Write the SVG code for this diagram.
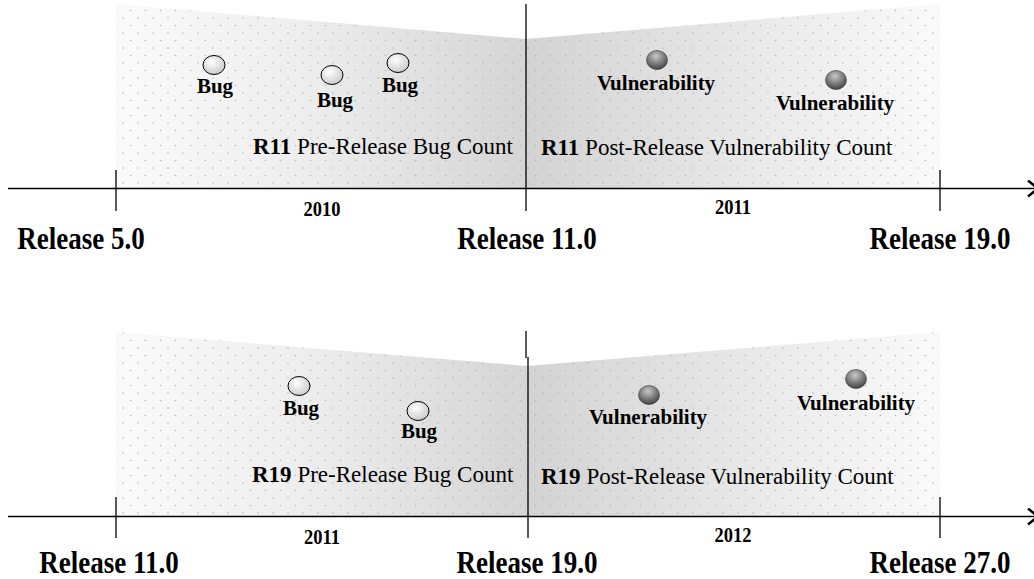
<svg xmlns="http://www.w3.org/2000/svg" width="1034" height="579" viewBox="0 0 1034 579">
<style>
.bugtxt{font-family:"Liberation Serif","Times New Roman",serif;font-weight:bold;font-size:21px;fill:#000;text-anchor:middle}
.cnt{font-family:"Liberation Serif","Times New Roman",serif;font-size:23px;fill:#000}
.cnt .b{font-weight:bold}
.rel{font-family:"Liberation Serif","Times New Roman",serif;font-weight:bold;font-size:27px;fill:#000;text-anchor:middle}
.yr{font-family:"Liberation Serif","Times New Roman",serif;font-weight:bold;font-size:18.5px;fill:#000;text-anchor:middle}
.ax{stroke:#000;stroke-width:1.5;fill:none}
.tk{stroke:#000;stroke-width:1.3;fill:none}
.bug{fill:url(#gBug);stroke:#000;stroke-width:1}
.vul{fill:url(#gVul);stroke:#333;stroke-width:0.6}
</style>
<defs>
<linearGradient id="gL" x1="0" y1="0" x2="1" y2="0">
<stop offset="0" stop-color="#fafafa"/>
<stop offset="0.45" stop-color="#eeeeee"/>
<stop offset="1" stop-color="#d5d5d5"/>
</linearGradient>
<linearGradient id="gR" x1="0" y1="0" x2="1" y2="0">
<stop offset="0" stop-color="#d3d3d3"/>
<stop offset="0.6" stop-color="#ebebeb"/>
<stop offset="1" stop-color="#fafafa"/>
</linearGradient>
<pattern id="dots" width="15" height="15" patternUnits="userSpaceOnUse">
<circle cx="3" cy="3" r="0.8" fill="#b5b5b5"/>
<circle cx="10.5" cy="10.5" r="0.8" fill="#b5b5b5"/>
</pattern>
<radialGradient id="gBug" cx="0.4" cy="0.35" r="0.7">
<stop offset="0" stop-color="#ffffff"/>
<stop offset="1" stop-color="#c8c8c8"/>
</radialGradient>
<radialGradient id="gVul" cx="0.45" cy="0.3" r="0.75">
<stop offset="0" stop-color="#c8c8c8"/>
<stop offset="0.5" stop-color="#808080"/>
<stop offset="1" stop-color="#3a3a3a"/>
</radialGradient>
<marker id="arr" markerWidth="14" markerHeight="18" refX="11" refY="9" orient="auto" markerUnits="userSpaceOnUse">
<path d="M1,1 L11,9 L1,17" fill="none" stroke="#000" stroke-width="2.5"/>
</marker>
</defs>

<g id="shading">
<path d="M116,4 L526,39 L526,188 L116,188 Z" fill="url(#gL)"/>
<path d="M116,4 L526,39 L526,188 L116,188 Z" fill="url(#dots)"/>
<path d="M526,39 L940,4 L940,188 L526,188 Z" fill="url(#gR)"/>
<path d="M526,39 L940,4 L940,188 L526,188 Z" fill="url(#dots)"/>
<path d="M116,332 L527,366 L527,516 L116,516 Z" fill="url(#gL)"/>
<path d="M116,332 L527,366 L527,516 L116,516 Z" fill="url(#dots)"/>
<path d="M527,366 L940,332 L940,516 L527,516 Z" fill="url(#gR)"/>
<path d="M527,366 L940,332 L940,516 L527,516 Z" fill="url(#dots)"/>
</g>

<g id="connectors">
<line class="ax" x1="8" y1="188.5" x2="1038" y2="188.5" marker-end="url(#arr)"/>
<line class="tk" x1="116" y1="170" x2="116" y2="211"/>
<line class="tk" x1="526" y1="4" x2="526" y2="211"/>
<line class="tk" x1="940" y1="170" x2="940" y2="211"/>
<line class="ax" x1="8" y1="516.5" x2="1038" y2="516.5" marker-end="url(#arr)"/>
<line class="tk" x1="116" y1="497" x2="116" y2="538"/>
<line class="tk" x1="526" y1="331" x2="526" y2="358"/>
<line class="tk" x1="528" y1="357" x2="528" y2="538"/>
<line class="tk" x1="940" y1="497" x2="940" y2="538"/>
</g>

<g id="bug-r11-1"><ellipse class="bug" cx="214" cy="65" rx="11" ry="9.5"/><text class="bugtxt" x="215" y="93">Bug</text></g>
<g id="bug-r11-2"><ellipse class="bug" cx="332" cy="75" rx="11" ry="9.5"/><text class="bugtxt" x="335" y="107">Bug</text></g>
<g id="bug-r11-3"><ellipse class="bug" cx="398" cy="63" rx="11" ry="9.5"/><text class="bugtxt" x="400" y="92">Bug</text></g>
<g id="vul-r11-1"><ellipse class="vul" cx="657" cy="60" rx="10.5" ry="9.5"/><text class="bugtxt" x="656" y="90">Vulnerability</text></g>
<g id="vul-r11-2"><ellipse class="vul" cx="836" cy="80" rx="10.5" ry="9.5"/><text class="bugtxt" x="835" y="110">Vulnerability</text></g>

<g id="count-r11-pre"><text class="cnt" x="253" y="154"><tspan class="b">R11</tspan> Pre-Release Bug Count</text></g>
<g id="count-r11-post"><text class="cnt" x="541" y="155"><tspan class="b">R11</tspan> Post-Release Vulnerability Count</text></g>

<g id="bug-r19-1"><ellipse class="bug" cx="299" cy="386" rx="11" ry="9.5"/><text class="bugtxt" x="301" y="415">Bug</text></g>
<g id="bug-r19-2"><ellipse class="bug" cx="418" cy="411" rx="11" ry="9.5"/><text class="bugtxt" x="419" y="438">Bug</text></g>
<g id="vul-r19-1"><ellipse class="vul" cx="649" cy="395" rx="10.5" ry="9.5"/><text class="bugtxt" x="648" y="424">Vulnerability</text></g>
<g id="vul-r19-2"><ellipse class="vul" cx="856" cy="379" rx="10.5" ry="9.5"/><text class="bugtxt" x="856" y="410">Vulnerability</text></g>

<g id="count-r19-pre"><text class="cnt" x="252" y="482"><tspan class="b">R19</tspan> Pre-Release Bug Count</text></g>
<g id="count-r19-post"><text class="cnt" x="541" y="484"><tspan class="b">R19</tspan> Post-Release Vulnerability Count</text></g>

<g id="years">
<text class="yr" transform="translate(322,216) scale(1,1.1)">2010</text>
<text class="yr" transform="translate(733,214) scale(1,1.1)">2011</text>
<text class="yr" transform="translate(322,544) scale(1,1.1)">2011</text>
<text class="yr" transform="translate(733,542) scale(1,1.1)">2012</text>
</g>

<g id="releases">
<text class="rel" transform="translate(81,249) scale(1,1.15)">Release 5.0</text>
<text class="rel" transform="translate(527,249) scale(1,1.15)">Release 11.0</text>
<text class="rel" transform="translate(940,249) scale(1,1.15)">Release 19.0</text>
<text class="rel" transform="translate(109,573) scale(1,1.15)">Release 11.0</text>
<text class="rel" transform="translate(527,573) scale(1,1.15)">Release 19.0</text>
<text class="rel" transform="translate(940,573) scale(1,1.15)">Release 27.0</text>
</g>
</svg>
